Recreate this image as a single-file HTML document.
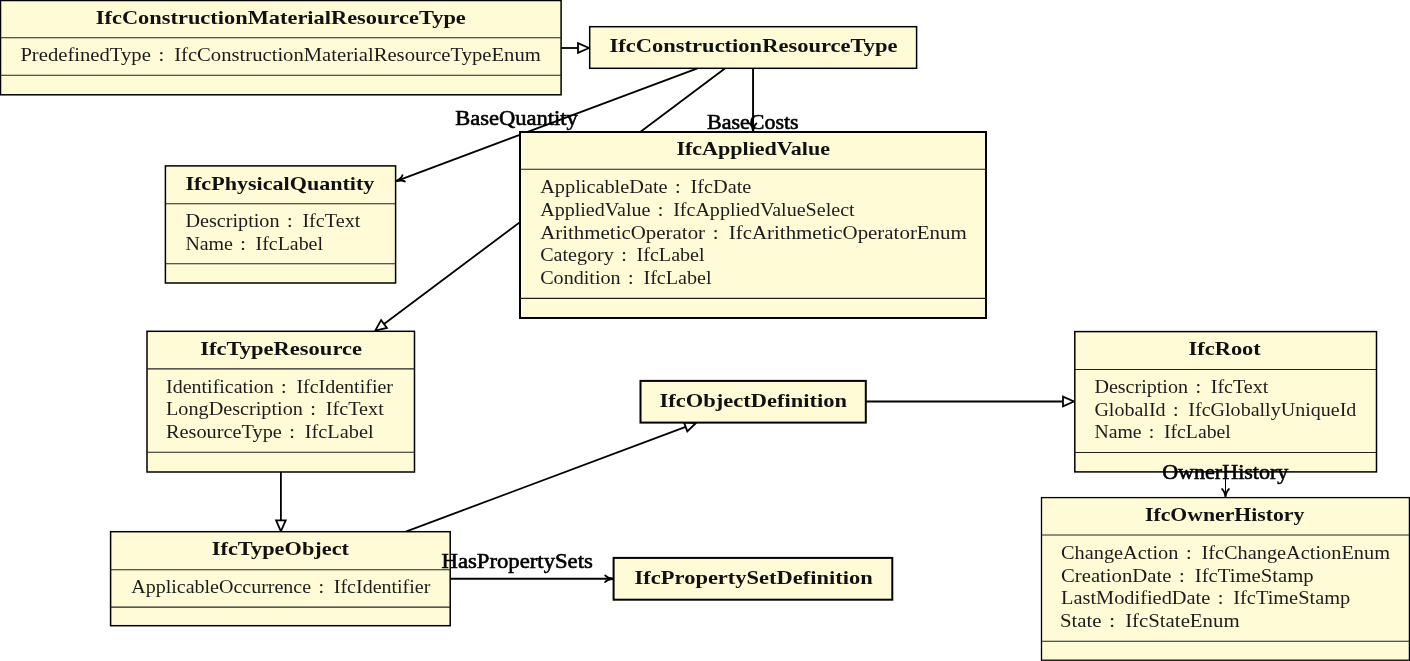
<!DOCTYPE html>
<html><head><meta charset="utf-8"><title>IFC UML</title>
<style>
html,body{margin:0;padding:0;background:#fff;}
body{width:1410px;height:661px;overflow:hidden;}
svg{display:block;will-change:transform;font-family:"Liberation Serif",serif;}
text{white-space:pre;}
</style></head><body>
<svg width="1410" height="661" viewBox="0 0 1410 661">
<rect width="1410" height="661" fill="#fff"/>
<line x1="697.44" y1="68.30" x2="396.30" y2="181.05" stroke="#000" stroke-width="1.9"/>
<g transform="translate(396.30,181.05) rotate(159.47) scale(1.0)"><path d="M-7.8,-3.3 C-6.4,-1.6 -3.0,-0.4 0.2,0 C-3.0,0.4 -6.4,1.6 -7.8,3.3" fill="none" stroke="#000" stroke-width="1.90" stroke-linecap="round" stroke-linejoin="round"/></g>
<line x1="725.24" y1="68.30" x2="384.02" y2="324.00" stroke="#000" stroke-width="1.8"/>
<path d="M375.21,330.60 L381.14,320.16 L386.89,327.84 Z" fill="#fff" stroke="#000" stroke-width="1.8" stroke-linejoin="miter"/>
<line x1="753.05" y1="68.30" x2="753.05" y2="131.20" stroke="#000" stroke-width="1.9"/>
<g transform="translate(753.05,131.20) rotate(90.00) scale(1.0)"><path d="M-7.8,-3.3 C-6.4,-1.6 -3.0,-0.4 0.2,0 C-3.0,0.4 -6.4,1.6 -7.8,3.3" fill="none" stroke="#000" stroke-width="1.90" stroke-linecap="round" stroke-linejoin="round"/></g>
<rect x="0.50" y="0.50" width="560.60" height="94.30" fill="#FFFBD7" stroke="#000" stroke-width="1.5"/>
<line x1="0.50" y1="37.80" x2="561.10" y2="37.80" stroke="#222" stroke-width="1.1"/>
<line x1="0.50" y1="75.30" x2="561.10" y2="75.30" stroke="#222" stroke-width="1.1"/>
<text x="95.8" y="24.0" textLength="370.0" lengthAdjust="spacingAndGlyphs" font-size="18.8" font-weight="bold" fill="#111">IfcConstructionMaterialResourceType</text>
<text x="20.4" y="61.0" textLength="520.4" lengthAdjust="spacingAndGlyphs" font-size="18.6" word-spacing="2.2" fill="#1c1c1c">PredefinedType : <tspan dx="2.2">IfcConstructionMaterialResourceTypeEnum</tspan></text>
<line x1="561.10" y1="48.00" x2="578.00" y2="48.00" stroke="#000" stroke-width="1.8"/>
<path d="M589.00,48.00 L578.00,52.80 L578.00,43.20 Z" fill="#fff" stroke="#000" stroke-width="1.8" stroke-linejoin="miter"/>
<rect x="589.70" y="26.70" width="326.90" height="41.60" fill="#FFFBD7" stroke="#000" stroke-width="1.5"/>
<text x="609.6" y="51.8" textLength="288.0" lengthAdjust="spacingAndGlyphs" font-size="18.8" font-weight="bold" fill="#111">IfcConstructionResourceType</text>
<rect x="165.40" y="165.90" width="230.20" height="117.10" fill="#FFFBD7" stroke="#000" stroke-width="1.5"/>
<line x1="165.40" y1="203.80" x2="395.60" y2="203.80" stroke="#222" stroke-width="1.1"/>
<line x1="165.40" y1="263.70" x2="395.60" y2="263.70" stroke="#222" stroke-width="1.1"/>
<text x="185.4" y="190.4" textLength="189.0" lengthAdjust="spacingAndGlyphs" font-size="18.8" font-weight="bold" fill="#111">IfcPhysicalQuantity</text>
<text x="185.4" y="227.2" textLength="175.0" lengthAdjust="spacingAndGlyphs" font-size="18.6" word-spacing="2.2" fill="#1c1c1c">Description : <tspan dx="2.2">IfcText</tspan></text>
<text x="185.4" y="249.9" textLength="137.6" lengthAdjust="spacingAndGlyphs" font-size="18.6" word-spacing="2.2" fill="#1c1c1c">Name : <tspan dx="2.2">IfcLabel</tspan></text>
<rect x="520.00" y="132.00" width="466.00" height="186.00" fill="#FFFBD7" stroke="#000" stroke-width="2.0"/>
<line x1="520.00" y1="169.30" x2="986.00" y2="169.30" stroke="#222" stroke-width="1.1"/>
<line x1="520.00" y1="298.40" x2="986.00" y2="298.40" stroke="#222" stroke-width="1.1"/>
<text x="676.4" y="155.0" textLength="153.6" lengthAdjust="spacingAndGlyphs" font-size="18.8" font-weight="bold" fill="#111">IfcAppliedValue</text>
<text x="540.2" y="193.3" textLength="211.2" lengthAdjust="spacingAndGlyphs" font-size="18.6" word-spacing="2.2" fill="#1c1c1c">ApplicableDate : <tspan dx="2.2">IfcDate</tspan></text>
<text x="540.2" y="216.0" textLength="314.4" lengthAdjust="spacingAndGlyphs" font-size="18.6" word-spacing="2.2" fill="#1c1c1c">AppliedValue : <tspan dx="2.2">IfcAppliedValueSelect</tspan></text>
<text x="540.2" y="238.7" textLength="426.6" lengthAdjust="spacingAndGlyphs" font-size="18.6" word-spacing="2.2" fill="#1c1c1c">ArithmeticOperator : <tspan dx="2.2">IfcArithmeticOperatorEnum</tspan></text>
<text x="540.2" y="261.4" textLength="164.4" lengthAdjust="spacingAndGlyphs" font-size="18.6" word-spacing="2.2" fill="#1c1c1c">Category : <tspan dx="2.2">IfcLabel</tspan></text>
<text x="540.2" y="284.1" textLength="171.4" lengthAdjust="spacingAndGlyphs" font-size="18.6" word-spacing="2.2" fill="#1c1c1c">Condition : <tspan dx="2.2">IfcLabel</tspan></text>
<rect x="147.00" y="331.30" width="267.50" height="140.70" fill="#FFFBD7" stroke="#000" stroke-width="1.5"/>
<line x1="147.00" y1="368.90" x2="414.50" y2="368.90" stroke="#222" stroke-width="1.1"/>
<line x1="147.00" y1="452.20" x2="414.50" y2="452.20" stroke="#222" stroke-width="1.1"/>
<text x="200.2" y="354.6" textLength="161.8" lengthAdjust="spacingAndGlyphs" font-size="18.8" font-weight="bold" fill="#111">IfcTypeResource</text>
<text x="166.0" y="392.6" textLength="227.0" lengthAdjust="spacingAndGlyphs" font-size="18.6" word-spacing="2.2" fill="#1c1c1c">Identification : <tspan dx="2.2">IfcIdentifier</tspan></text>
<text x="166.0" y="415.3" textLength="217.8" lengthAdjust="spacingAndGlyphs" font-size="18.6" word-spacing="2.2" fill="#1c1c1c">LongDescription : <tspan dx="2.2">IfcText</tspan></text>
<text x="166.0" y="438.0" textLength="207.6" lengthAdjust="spacingAndGlyphs" font-size="18.6" word-spacing="2.2" fill="#1c1c1c">ResourceType : <tspan dx="2.2">IfcLabel</tspan></text>
<line x1="280.90" y1="472.00" x2="280.90" y2="520.30" stroke="#000" stroke-width="1.8"/>
<path d="M280.90,531.30 L276.10,520.30 L285.70,520.30 Z" fill="#fff" stroke="#000" stroke-width="1.8" stroke-linejoin="miter"/>
<line x1="405.85" y1="531.60" x2="685.63" y2="426.86" stroke="#000" stroke-width="1.8"/>
<path d="M695.94,423.00 L687.32,431.35 L683.95,422.36 Z" fill="#fff" stroke="#000" stroke-width="1.8" stroke-linejoin="miter"/>
<rect x="110.60" y="531.70" width="339.60" height="94.00" fill="#FFFBD7" stroke="#000" stroke-width="1.5"/>
<line x1="110.60" y1="569.70" x2="450.20" y2="569.70" stroke="#222" stroke-width="1.1"/>
<line x1="110.60" y1="607.10" x2="450.20" y2="607.10" stroke="#222" stroke-width="1.1"/>
<text x="211.8" y="554.6" textLength="137.2" lengthAdjust="spacingAndGlyphs" font-size="18.8" font-weight="bold" fill="#111">IfcTypeObject</text>
<text x="131.2" y="592.9" textLength="299.2" lengthAdjust="spacingAndGlyphs" font-size="18.6" word-spacing="2.2" fill="#1c1c1c">ApplicableOccurrence : <tspan dx="2.2">IfcIdentifier</tspan></text>
<rect x="640.50" y="380.90" width="225.30" height="41.70" fill="#FFFBD7" stroke="#000" stroke-width="2.0"/>
<text x="659.6" y="406.6" textLength="187.4" lengthAdjust="spacingAndGlyphs" font-size="18.8" font-weight="bold" fill="#111">IfcObjectDefinition</text>
<line x1="865.80" y1="401.50" x2="1063.00" y2="401.50" stroke="#000" stroke-width="1.8"/>
<path d="M1074.00,401.50 L1063.00,406.30 L1063.00,396.70 Z" fill="#fff" stroke="#000" stroke-width="1.8" stroke-linejoin="miter"/>
<line x1="450.20" y1="578.70" x2="613.00" y2="578.70" stroke="#000" stroke-width="1.9"/>
<g transform="translate(613.00,578.70) rotate(0.00) scale(1.0)"><path d="M-7.8,-3.3 C-6.4,-1.6 -3.0,-0.4 0.2,0 C-3.0,0.4 -6.4,1.6 -7.8,3.3" fill="none" stroke="#000" stroke-width="1.90" stroke-linecap="round" stroke-linejoin="round"/></g>
<rect x="613.60" y="557.90" width="278.70" height="41.80" fill="#FFFBD7" stroke="#000" stroke-width="2.0"/>
<text x="634.6" y="583.6" textLength="238.2" lengthAdjust="spacingAndGlyphs" font-size="18.8" font-weight="bold" fill="#111">IfcPropertySetDefinition</text>
<rect x="1074.80" y="331.60" width="301.70" height="140.30" fill="#FFFBD7" stroke="#000" stroke-width="1.5"/>
<line x1="1074.80" y1="369.50" x2="1376.50" y2="369.50" stroke="#222" stroke-width="1.1"/>
<line x1="1074.80" y1="452.50" x2="1376.50" y2="452.50" stroke="#222" stroke-width="1.1"/>
<text x="1188.6" y="354.9" textLength="72.2" lengthAdjust="spacingAndGlyphs" font-size="18.8" font-weight="bold" fill="#111">IfcRoot</text>
<text x="1094.4" y="392.9" textLength="174.0" lengthAdjust="spacingAndGlyphs" font-size="18.6" word-spacing="2.2" fill="#1c1c1c">Description : <tspan dx="2.2">IfcText</tspan></text>
<text x="1094.4" y="415.6" textLength="262.0" lengthAdjust="spacingAndGlyphs" font-size="18.6" word-spacing="2.2" fill="#1c1c1c">GlobalId : <tspan dx="2.2">IfcGloballyUniqueId</tspan></text>
<text x="1094.4" y="438.3" textLength="136.4" lengthAdjust="spacingAndGlyphs" font-size="18.6" word-spacing="2.2" fill="#1c1c1c">Name : <tspan dx="2.2">IfcLabel</tspan></text>
<line x1="1225.50" y1="471.90" x2="1225.50" y2="497.20" stroke="#000" stroke-width="1.0"/>
<g transform="translate(1225.50,497.20) rotate(90.00) scale(1.05)"><path d="M-7.8,-3.3 C-6.4,-1.6 -3.0,-0.4 0.2,0 C-3.0,0.4 -6.4,1.6 -7.8,3.3" fill="none" stroke="#000" stroke-width="1.62" stroke-linecap="round" stroke-linejoin="round"/></g>
<rect x="1041.50" y="497.60" width="367.90" height="162.60" fill="#FFFBD7" stroke="#000" stroke-width="1.3"/>
<line x1="1041.50" y1="535.00" x2="1409.40" y2="535.00" stroke="#222" stroke-width="1.1"/>
<line x1="1041.50" y1="641.30" x2="1409.40" y2="641.30" stroke="#222" stroke-width="1.1"/>
<text x="1145.0" y="521.1" textLength="159.4" lengthAdjust="spacingAndGlyphs" font-size="18.8" font-weight="bold" fill="#111">IfcOwnerHistory</text>
<text x="1061.0" y="559.0" textLength="329.0" lengthAdjust="spacingAndGlyphs" font-size="18.6" word-spacing="2.2" fill="#1c1c1c">ChangeAction : <tspan dx="2.2">IfcChangeActionEnum</tspan></text>
<text x="1061.0" y="581.7" textLength="252.6" lengthAdjust="spacingAndGlyphs" font-size="18.6" word-spacing="2.2" fill="#1c1c1c">CreationDate : <tspan dx="2.2">IfcTimeStamp</tspan></text>
<text x="1061.0" y="604.4" textLength="289.2" lengthAdjust="spacingAndGlyphs" font-size="18.6" word-spacing="2.2" fill="#1c1c1c">LastModifiedDate : <tspan dx="2.2">IfcTimeStamp</tspan></text>
<text x="1060.0" y="627.1" textLength="179.6" lengthAdjust="spacingAndGlyphs" font-size="18.6" word-spacing="2.2" fill="#1c1c1c">State : <tspan dx="2.2">IfcStateEnum</tspan></text>
<text x="455.2" y="125.0" textLength="122.6" lengthAdjust="spacingAndGlyphs" font-size="21.6" fill="#000" stroke="#000" stroke-width="0.6">BaseQuantity</text>
<text x="707.0" y="129.3" textLength="91.6" lengthAdjust="spacingAndGlyphs" font-size="21.6" fill="#000" stroke="#000" stroke-width="0.6">BaseCosts</text>
<text x="441.6" y="567.9" textLength="151.2" lengthAdjust="spacingAndGlyphs" font-size="21.6" fill="#000" stroke="#000" stroke-width="0.6">HasPropertySets</text>
<text x="1162.2" y="479.3" textLength="126.2" lengthAdjust="spacingAndGlyphs" font-size="21.6" fill="#000" stroke="#000" stroke-width="0.6">OwnerHistory</text>
</svg></body></html>
